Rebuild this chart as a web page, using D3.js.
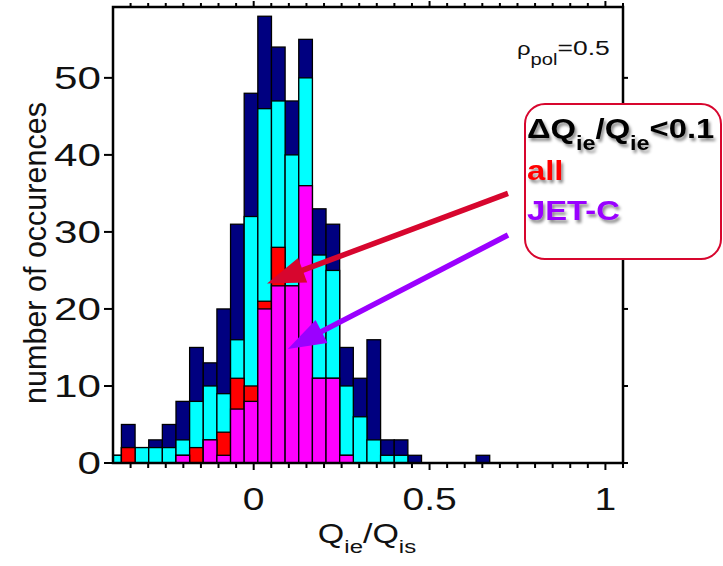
<!DOCTYPE html>
<html>
<head>
<meta charset="utf-8">
<script src="https://cdn.jsdelivr.net/npm/d3@7/dist/d3.min.js"></script>
<style>
  html, body { margin: 0; padding: 0; background: #fff; }
  svg { display: block; font-family: "Liberation Sans", Arial, sans-serif; }
</style>
</head>
<body>
<svg id="chart" width="723" height="566"></svg>
<script>
// Histogram of Q_ie/Q_is at rho_pol = 0.5
// Bin layout of the histogram (left edge of first bin and width)
const binStart = -0.4148;
const binWidth = 0.03878;

// Counts per bin, four overlaid populations (drawn back to front)
const countsTotal  = [1, 5, 2, 3, 5, 8, 15, 13, 20, 31, 48, 58, 54, 47, 55, 33, 31, 15, 11, 16, 3, 3, 1, 0, 0, 0, 0, 1];
const countsCyan   = [1, 2, 2, 2, 2, 3, 8, 10, 9, 16, 32, 46, 47, 40, 50, 27, 25, 10, 6, 3, 1, 1, 0, 0, 0, 0, 0, 0];
const countsAll    = [0, 2, 0, 0, 0, 1, 2, 3, 4, 11, 10, 21, 28, 23, 36, 11, 11, 1, 0, 0, 0, 0, 0, 0, 0, 0, 0, 0];
const countsJetC   = [0, 0, 0, 0, 0, 1, 0, 3, 1, 7, 8, 20, 23, 23, 36, 11, 11, 1, 0, 0, 0, 0, 0, 0, 0, 0, 0, 0];

const seriesColors = ["#000080", "#00ffff", "#ff0000", "#ff00ff"];

// Axis ticks
const xTickLabels = [0, 0.5, 1];
const yTickLabels = [0, 10, 20, 30, 40, 50];

// Arrow annotations in data coordinates [x, y]
const arrowAll  = { from: [0.723, 35.0], to: [0.038, 23.3], color: "#d7062e" };
const arrowJetC = { from: [0.723, 29.6], to: [0.097, 14.8], color: "#9b00ff" };

const svg = d3.select("#chart");
const plot = { left: 113, right: 623, top: 7, bottom: 463 };
const SX = 1.26; // horizontal text stretch

const x = d3.scaleLinear().domain([-0.4, 1.05]).range([plot.left, plot.right]);
const y = d3.scaleLinear().domain([0, 59.2]).range([plot.bottom, plot.top]);

const defs = svg.append("defs");
defs.append("clipPath").attr("id", "plotClip")
  .append("rect")
  .attr("x", plot.left).attr("y", plot.top)
  .attr("width", plot.right - plot.left).attr("height", plot.bottom - plot.top);

const shadow = defs.append("filter").attr("id", "txtShadow")
  .attr("x", "-20%").attr("y", "-20%").attr("width", "140%").attr("height", "160%");
shadow.append("feDropShadow")
  .attr("dx", 2).attr("dy", 3).attr("stdDeviation", 1.6)
  .attr("flood-color", "#000").attr("flood-opacity", 0.45);

// Bars
const bins = d3.range(countsTotal.length).map(i => ({
  x0: binStart + i * binWidth,
  x1: binStart + (i + 1) * binWidth
}));
const layers = [countsTotal, countsCyan, countsAll, countsJetC];
const barG = svg.append("g").attr("clip-path", "url(#plotClip)");
layers.forEach((vals, li) => {
  barG.append("g")
    .selectAll("rect")
    .data(bins.map((b, i) => ({ ...b, v: vals[i] })).filter(d => d.v > 0))
    .join("rect")
    .attr("x", d => x(d.x0))
    .attr("width", d => x(d.x1) - x(d.x0))
    .attr("y", d => y(d.v))
    .attr("height", d => y(0) - y(d.v))
    .attr("fill", seriesColors[li])
    .attr("stroke", "#000")
    .attr("stroke-width", 1.3);
});

// Frame
svg.append("rect")
  .attr("x", plot.left).attr("y", plot.top)
  .attr("width", plot.right - plot.left).attr("height", plot.bottom - plot.top)
  .attr("fill", "none").attr("stroke", "#000").attr("stroke-width", 2.5);

// Ticks
const minorX = d3.range(-0.35, 1.0501, 0.05).map(v => +v.toFixed(2));
const tickG = svg.append("g").attr("stroke", "#000").attr("stroke-width", 2);
minorX.forEach(v => {
  const major = xTickLabels.includes(v);
  tickG.append("line").attr("x1", x(v)).attr("x2", x(v))
    .attr("y1", plot.bottom).attr("y2", plot.bottom + (major ? 7 : 5));
  tickG.append("line").attr("x1", x(v)).attr("x2", x(v))
    .attr("y1", plot.top).attr("y2", plot.top - (major ? 6 : 4));
});
yTickLabels.forEach(v => {
  tickG.append("line").attr("x1", plot.left - 9).attr("x2", plot.left)
    .attr("y1", y(v)).attr("y2", y(v));
  tickG.append("line").attr("x1", plot.right).attr("x2", plot.right + 5)
    .attr("y1", y(v)).attr("y2", y(v));
});

// Tick labels
function stretchedText(g, px, py, anchor, sx = SX) {
  return g.append("text")
    .attr("transform", `translate(${px},${py}) scale(${sx},1)`)
    .attr("text-anchor", anchor);
}
const labG = svg.append("g").attr("fill", "#111").style("font-size", "31px");
yTickLabels.forEach(v => {
  stretchedText(labG, 101, y(v) + 11, "end", 1.36).text(v);
});
xTickLabels.forEach(v => {
  stretchedText(labG, x(v), 510, "middle").text(v);
});

// Axis titles
svg.append("text")
  .attr("transform", `translate(46,${(plot.top + plot.bottom) / 2 + 18}) rotate(-90)`)
  .attr("text-anchor", "middle")
  .style("font-size", "30.5px").attr("fill", "#111")
  .text("number of occurences");

const xt = stretchedText(svg, 367, 543, "middle").style("font-size", "27px").attr("fill", "#111");
xt.append("tspan").text("Q");
xt.append("tspan").attr("dy", 10).style("font-size", "19px").text("ie");
xt.append("tspan").attr("dy", -10).text("/Q");
xt.append("tspan").attr("dy", 10).style("font-size", "19px").text("is");

// rho_pol label
const rt = stretchedText(svg, 517, 55, "start").style("font-size", "21px").attr("fill", "#111");
rt.append("tspan").style("font-size", "19px").text("ρ");
rt.append("tspan").attr("dy", 10).style("font-size", "16px").text("pol");
rt.append("tspan").attr("dy", -10).text("=0.5");

// Arrows
function drawArrow(a) {
  const [x0, y0] = [x(a.from[0]), y(a.from[1])];
  const [x1, y1] = [x(a.to[0]), y(a.to[1])];
  const dx = x1 - x0, dy = y1 - y0, len = Math.hypot(dx, dy);
  const ux = dx / len, uy = dy / len;
  const headLen = 38, headHalf = 13;
  const bx = x1 - ux * headLen, by = y1 - uy * headLen;
  svg.append("line")
    .attr("x1", x0).attr("y1", y0).attr("x2", bx + ux * 4).attr("y2", by + uy * 4)
    .attr("stroke", a.color).attr("stroke-width", 5.5);
  svg.append("polygon")
    .attr("points", [
      [x1, y1],
      [bx - uy * headHalf, by + ux * headHalf],
      [bx + uy * headHalf, by - ux * headHalf]
    ].map(p => p.join(",")).join(" "))
    .attr("fill", a.color);
}
drawArrow(arrowAll);
drawArrow(arrowJetC);

// Legend box
svg.append("rect")
  .attr("x", 525).attr("y", 104).attr("width", 196).attr("height", 155)
  .attr("rx", 20).attr("ry", 20)
  .attr("fill", "#fff").attr("stroke", "#d7062e").attr("stroke-width", 2);

const lg = svg.append("g").attr("filter", "url(#txtShadow)")
  .style("font-weight", "bold");
const LSX = 1.17;
const l1 = stretchedText(lg, 527, 138, "start", LSX).style("font-size", "28px").attr("fill", "#000");
l1.append("tspan").text("ΔQ");
l1.append("tspan").attr("dy", 12).style("font-size", "20px").text("ie");
l1.append("tspan").attr("dy", -12).text("/Q");
l1.append("tspan").attr("dy", 12).style("font-size", "20px").text("ie");
l1.append("tspan").attr("dy", -12).text("<0.1");
stretchedText(lg, 527, 180, "start", LSX).style("font-size", "28px").attr("fill", "#ff0000").text("all");
stretchedText(lg, 527, 220, "start", LSX).style("font-size", "28px").attr("fill", "#9900ff").text("JET-C");
</script>
</body>
</html>
